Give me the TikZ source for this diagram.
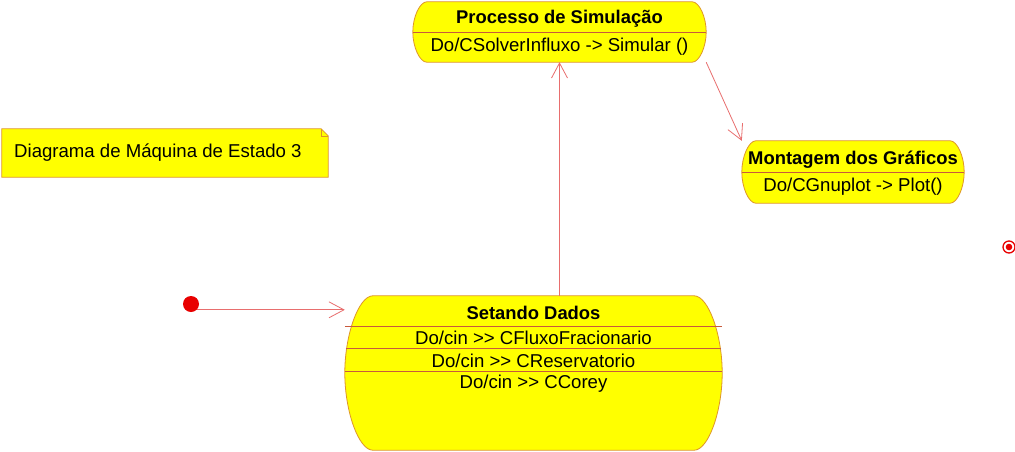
\documentclass[tikz,border=0pt]{standalone}
\usepackage{fontspec}
\setmainfont{Liberation Sans}
\usetikzlibrary{calc,arrows.meta}
\definecolor{styel}{RGB}{255,255,0}
\definecolor{stbord}{RGB}{222,150,40}
\definecolor{stdiv}{RGB}{200,90,60}
\definecolor{arrred}{RGB}{232,110,110}
\definecolor{dotred}{RGB}{232,0,0}
\newcommand\stshape[2]{%
  \path[border] ($(#1.north west)+(#2,0)$) -- ($(#1.north east)+(-#2,0)$)
    .. controls ($(#1.north east)+(-#2/2,0)$) and ($(#1.east)!0.5!(#1.north east)$) .. (#1.east)
    .. controls ($(#1.east)!0.5!(#1.south east)$) and ($(#1.south east)+(-#2/2,0)$) .. ($(#1.south east)+(-#2,0)$)
    -- ($(#1.south west)+(#2,0)$)
    .. controls ($(#1.south west)+(#2/2,0)$) and ($(#1.west)!0.5!(#1.south west)$) .. (#1.west)
    .. controls ($(#1.west)!0.5!(#1.north west)$) and ($(#1.north west)+(#2/2,0)$) .. cycle;}
\begin{document}
\begin{tikzpicture}[x=1pt,y=-1pt,
  box/.style={rectangle, inner sep=0pt, draw=none},
  txt/.style={font=\fontsize{18.6}{22}\selectfont, inner sep=0pt},
  ttl/.style={font=\fontsize{18.4}{22}\selectfont\bfseries, inner sep=0pt},
  arr/.style={draw=arrred, line width=0.8pt, -{Straight Barb[length=15pt,width=16pt,line width=0.8pt]}},
  divl/.style={draw=stdiv, line width=0.7pt},
  border/.style={fill=styel, draw=stbord, line width=0.8pt}]
\useasboundingbox[fill=white] (0,0) rectangle (1015,451);
% frames
\node[box, minimum width=293pt, minimum height=60pt] (ps) at (559.5,32) {};
\node[box, minimum width=222pt, minimum height=62pt] (mg) at (853,172) {};
\node[box, minimum width=377pt, minimum height=154pt] (sd) at (533.5,373) {};
\node[box, minimum width=326pt, minimum height=48pt] (nt) at (165,153) {};
\stshape{ps}{14}
\stshape{mg}{14}
\stshape{sd}{28}
% note
\path[border] (nt.north west) -- ($(nt.north east)+(-7,0)$) -- ($(nt.north east)+(0,7)$) -- (nt.south east) -- (nt.south west) -- cycle;
\draw[draw=stbord, line width=0.6pt] ($(nt.north east)+(-7,0)$) -- ($(nt.north east)+(-7,7)$) -- ($(nt.north east)+(0,7)$);
% dividers
\draw[divl] (ps.west) -- (ps.east);
\draw[divl] (mg.west) -- (mg.east);
\draw[divl] ($(sd.north west)+(0,31)$) -- ($(sd.north east)+(0,31)$);
\draw[divl] ($(sd.north west)+(1,53)$) -- ($(sd.north east)+(-1,53)$);
\draw[divl] ($(sd.north west)+(0,76)$) -- ($(sd.north east)+(0,76)$);
% texts
\node[ttl] (pst) at (559.5,19) {Processo de Simulação};
\node[txt] (psa) at (559.5,47) {Do/CSolverInfluxo -> Simular ()};
\node[ttl] (mgt) at (853,160) {Montagem dos Gráficos};
\node[txt] (mga) at (853,187) {Do/CGnuplot -> Plot()};
\node[ttl] (sdt) at (533.5,313) {Setando Dados};
\node[txt] (sda) at (533.5,338) {Do/cin >\kern0pt> CFluxoFracionario};
\node[txt] (sdb) at (533.5,361) {Do/cin >\kern0pt> CReservatorio};
\node[txt] (sdc) at (533.5,384) {Do/cin >\kern0pt> CCorey};
\node[txt, anchor=west] (ntt) at (14,153) {Diagrama de Máquina de Estado 3};
% initial and final
\node[circle, fill=dotred, minimum size=16pt, inner sep=0pt] (init) at (191,304) {};
\node[circle, draw=dotred, line width=1.3pt, fill=white, minimum size=12pt, inner sep=0pt] (fin) at (1009,247) {};
\fill[dotred] (fin) circle (3.3);
% transitions
\draw[arr] (init.south east) -- (init.south east -| sd.west);
\draw[arr] (ps.south |- sd.north) -- (ps.south);
\draw[arr] (ps.south east) -- (mg.north west);
\end{tikzpicture}
\end{document}
